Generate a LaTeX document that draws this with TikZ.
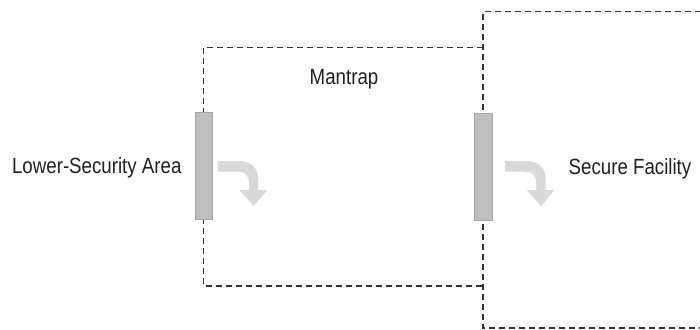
\documentclass[tikz,border=0pt]{standalone}
\usepackage{fontspec}
\setmainfont{Liberation Sans}[FakeStretch=0.85]
\definecolor{dashgrey}{HTML}{333333}
\definecolor{doorfill}{HTML}{BEBFC1}
\definecolor{doorline}{HTML}{A3A4A6}
\definecolor{arrowgrey}{HTML}{D8D9DA}
\definecolor{textgrey}{HTML}{231F20}
\tikzset{
  boundary/.style={draw=dashgrey, line width=1.4pt, dash pattern=on 6pt off 4pt},
  door/.style={draw=doorline, fill=doorfill, line width=0.9pt, inner sep=0pt, minimum width=17pt, minimum height=107pt},
  label/.style={inner sep=0pt, anchor=base, text=textgrey, font=\fontsize{22}{26}\selectfont},
  turnarrow/.pic={
    \fill[arrowgrey] (0,0) -- (20,0) .. controls (33,0) and (40.6,6) .. (40.6,19)
      -- (40.6,29) -- (49.6,29) -- (36,45) -- (21.6,29) -- (31.3,29) -- (31.3,22)
      .. controls (31.3,14) and (27,10.7) .. (20,10.7) -- (0,10.7) -- cycle;
  }
}
\begin{document}
\begin{tikzpicture}[x=1pt, y=-1pt]
\useasboundingbox (0,0) rectangle (700,329);
% corners
\coordinate (mtr) at (483,47.5);
\coordinate (mtl) at (203.5,47.5);
\coordinate (mbl) at (203.5,286);
\coordinate (mbr) at (483,286);
\coordinate (str) at (701,11.7);
\coordinate (stl) at (483,11.7);
\coordinate (sbl) at (483,328);
\coordinate (sbr) at (701,328);
% boundaries
\draw[boundary] (mtr) -- (mtl) -- (mbl) -- (mbr);
\draw[boundary] (str) -- (stl) -- (sbl) -- (sbr);
% doors
\node[door] (door1) at (203.5,166.4) {};
\node[door, minimum width=18pt] (door2) at (483,166.5) {};
% arrows
\pic at (217.7,161) {turnarrow};
\pic at (505,161) {turnarrow};
% labels
\node[label] (lower) at (96.8,173.3) {Lower-Security Area};
\node[label] (mantrap) at (344,84) {Mantrap};
\node[label] (secure) at (630,174) {Secure Facility};
\end{tikzpicture}
\end{document}
